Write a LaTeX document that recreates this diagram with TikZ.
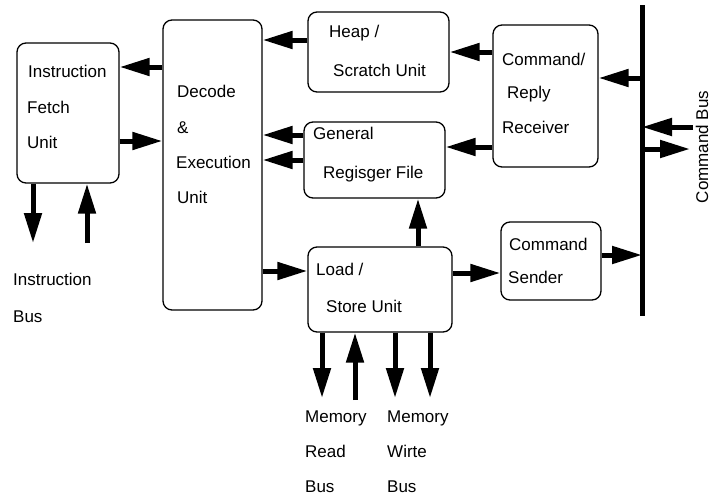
\documentclass[tikz,border=0pt]{standalone}
\usepackage{fontspec}
\setmainfont{Liberation Sans}
\usetikzlibrary{arrows.meta}

\tikzset{
  unit/.style={draw, line width=1.3pt, rounded corners=9pt, inner sep=0pt},
  txt/.style={anchor=base west, inner sep=0pt, font=\fontsize{17}{20}\selectfont},
  bus/.style={line width=5pt, -{Triangle[length=30pt,width=17pt]}},
}

\begin{document}
\begin{tikzpicture}[x=1pt, y=-1pt]
	\useasboundingbox (0,0) rectangle (711,496);

	% units
	\node[unit, minimum width=102, minimum height=140] (ifu) at (68,113) {};
	\node[unit, minimum width=99, minimum height=290] (dec) at (212.5,165) {};
	\node[unit, minimum width=141, minimum height=80] (heap) at (378.5,52) {};
	\node[unit, minimum width=141, minimum height=76] (grf) at (374.5,160) {};
	\node[unit, minimum width=105, minimum height=142] (crr) at (545.5,96) {};
	\node[unit, minimum width=100, minimum height=78] (cs) at (551,261) {};
	\node[unit, minimum width=144, minimum height=85] (lsu) at (380,289.5) {};

	% unit texts
	\node[txt] (ifuA) at (28,77) {Instruction};
	\node[txt] (ifuB) at (27,113) {Fetch};
	\node[txt] (ifuC) at (27,148) {Unit};
	\node[txt] (decA) at (177,97) {Decode};
	\node[txt] (decB) at (177,133) {\&};
	\node[txt] (decC) at (176,168) {Execution};
	\node[txt] (decD) at (177,203) {Unit};
	\node[txt] (heapA) at (329,37) {Heap /};
	\node[txt] (heapB) at (333,76) {Scratch Unit};
	\node[txt] (grfA) at (313,139) {General};
	\node[txt] (grfB) at (323,178) {Regisger File};
	\node[txt] (crrA) at (502,65) {Command/};
	\node[txt] (crrB) at (507,98) {Reply};
	\node[txt] (crrC) at (502,133) {Receiver};
	\node[txt] (csA) at (509,250) {Command};
	\node[txt] (csB) at (508,283) {Sender};
	\node[txt] (lsuA) at (316,275) {Load /};
	\node[txt] (lsuB) at (326,312) {Store Unit};

	% bus ends
	\coordinate (ib1) at (33,243);
	\coordinate (ib2) at (87,243);
	\coordinate (mr1) at (322,398);
	\coordinate (mr2) at (355,400);
	\coordinate (mw1) at (395,398);
	\coordinate (mw2) at (430,398);
	\coordinate (cbTop) at (642,5);
	\coordinate (cbBot) at (642,316);
	\coordinate (cbIn) at (693,127);
	\coordinate (cbOut) at (690,149);

	% bus labels
	\node[txt] (ibA) at (13,285) {Instruction};
	\node[txt] (ibB) at (13,322) {Bus};
	\node[txt] (mrA) at (305,422) {Memory};
	\node[txt] (mrB) at (305,457) {Read};
	\node[txt] (mrC) at (305,492) {Bus};
	\node[txt] (mwA) at (387,422) {Memory};
	\node[txt] (mwB) at (387,457) {Wirte};
	\node[txt] (mwC) at (387,492) {Bus};
	\node[rotate=90, inner sep=0pt, font=\fontsize{17}{20}\selectfont] (cbLbl) at (702,147) {Command Bus};

	% connections
	\draw[line width=5pt] (cbTop) -- (cbBot);
	\draw[bus] (dec.west |- 0,67) -- (ifu.east |- 0,67);
	\draw[bus] (ifu.east |- 0,141) -- (dec.west |- 0,141);
	\draw[bus] (ib1 |- ifu.south) -- (ib1);
	\draw[bus] (ib2) -- (ib2 |- ifu.south);
	\draw[bus] (heap.west |- 0,40) -- (dec.east |- 0,40);
	\draw[bus] (crr.west |- 0,52) -- (heap.east |- 0,52);
	\draw[bus] (grf.west |- 0,135) -- (dec.east |- 0,135);
	\draw[bus] (grf.west |- 0,160) -- (dec.east |- 0,160);
	\draw[bus] (crr.west |- 0,147) -- (grf.east |- 0,147);
	\draw[bus] (lsu.north -| 418,0) -- (grf.south -| 418,0);
	\draw[bus] (dec.east |- 0,271) -- (lsu.west |- 0,271);
	\draw[bus] (lsu.east |- 0,273) -- (cs.west |- 0,273);
	\draw[bus] (cs.east |- 0,255) -- (cbTop |- 0,255);
	\draw[bus] (cbTop |- 0,78) -- (crr.east |- 0,78);
	\draw[bus] (cbIn) -- (cbTop |- cbIn);
	\draw[bus] (cbTop |- cbOut) -- (cbOut);
	\draw[bus] (mr1 |- lsu.south) -- (mr1);
	\draw[bus] (mr2) -- (mr2 |- lsu.south);
	\draw[bus] (mw1 |- lsu.south) -- (mw1);
	\draw[bus] (mw2 |- lsu.south) -- (mw2);
\end{tikzpicture}
\end{document}
